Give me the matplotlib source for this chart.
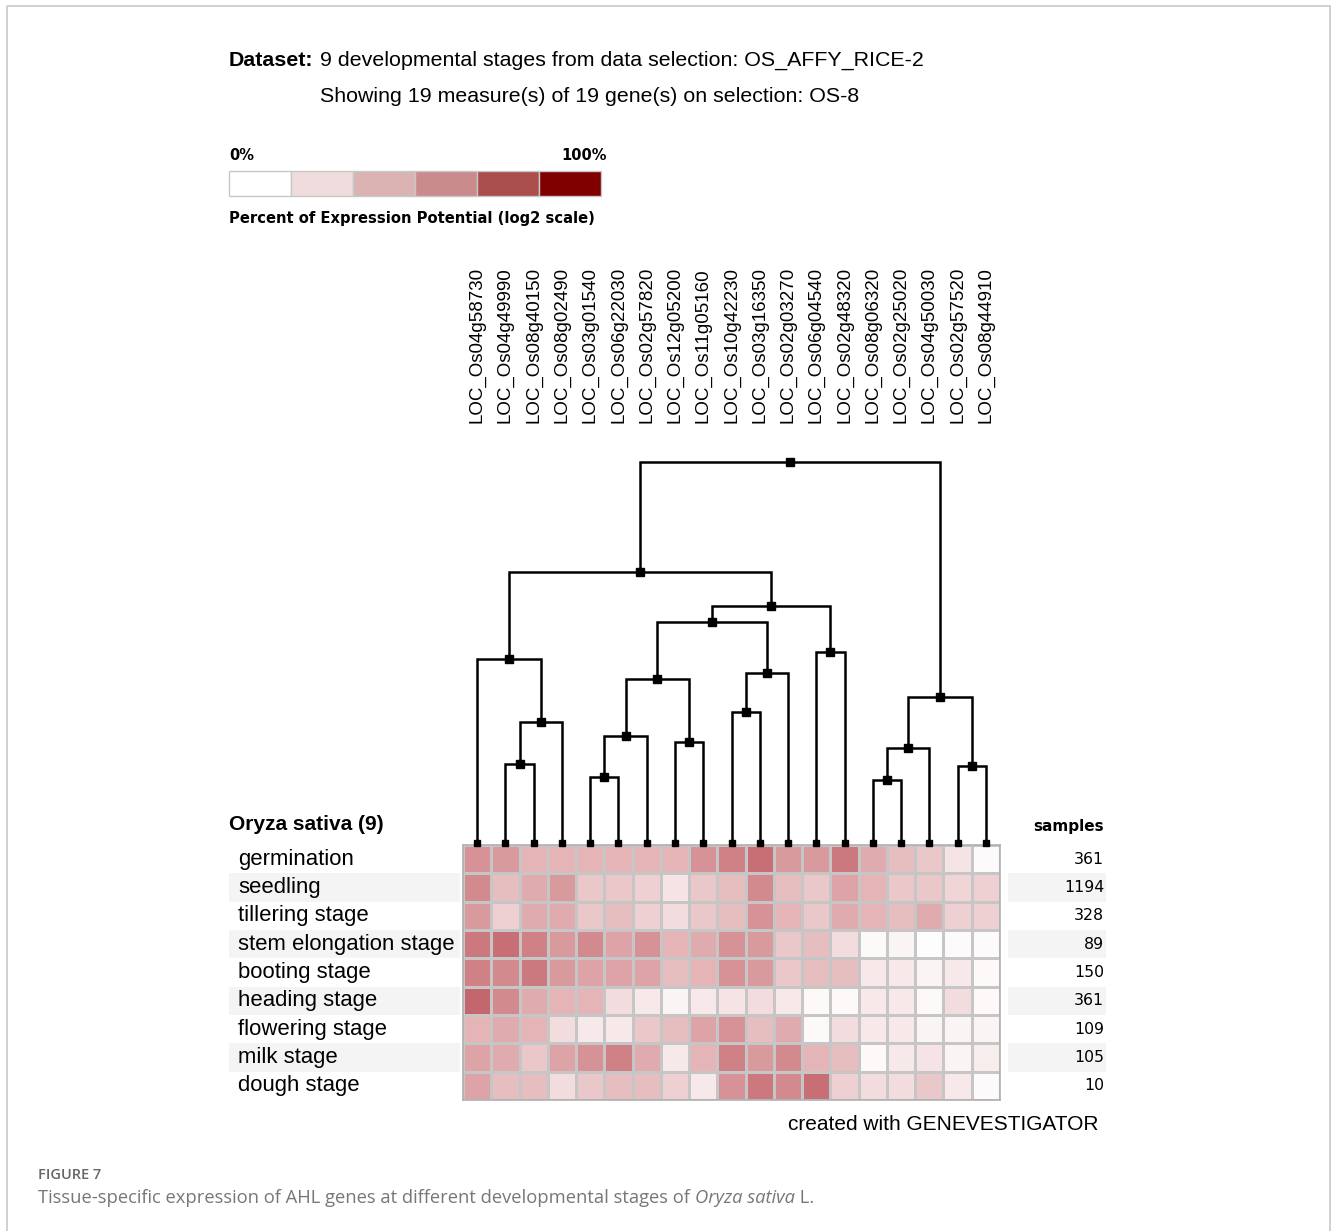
import matplotlib
matplotlib.use("Agg")
import matplotlib.pyplot as plt
import numpy as np
from matplotlib.colors import LinearSegmentedColormap
from matplotlib.patches import Rectangle
from matplotlib.transforms import blended_transform_factory as blend

# ---------------- data ----------------
genes = ["LOC_Os04g58730", "LOC_Os04g49990", "LOC_Os08g40150", "LOC_Os08g02490",
         "LOC_Os03g01540", "LOC_Os06g22030", "LOC_Os02g57820", "LOC_Os12g05200",
         "LOC_Os11g05160", "LOC_Os10g42230", "LOC_Os03g16350", "LOC_Os02g03270",
         "LOC_Os06g04540", "LOC_Os02g48320", "LOC_Os08g06320", "LOC_Os02g25020",
         "LOC_Os04g50030", "LOC_Os02g57520", "LOC_Os08g44910"]
stages = ["germination", "seedling", "tillering stage", "stem elongation stage",
          "booting stage", "heading stage", "flowering stage", "milk stage", "dough stage"]
samples = [361, 1194, 328, 89, 150, 361, 109, 105, 10]

# percent of expression potential
germination = [55, 50, 35, 35, 35, 35, 35, 35, 55, 65, 75, 50, 50, 70, 40, 30, 25, 12, 2]
seedling    = [60, 30, 40, 50, 25, 25, 20, 12, 25, 30, 60, 30, 25, 45, 35, 25, 25, 18, 20]
tillering   = [50, 20, 40, 40, 25, 30, 20, 15, 25, 30, 55, 35, 25, 40, 35, 30, 40, 20, 20]
stem_elong  = [70, 75, 65, 50, 60, 45, 55, 35, 40, 55, 50, 25, 30, 15, 3, 5, 1, 2, 2]
booting     = [65, 60, 70, 50, 45, 45, 45, 30, 35, 55, 50, 25, 30, 30, 10, 10, 5, 10, 3]
heading     = [80, 60, 40, 35, 35, 15, 10, 5, 10, 12, 15, 10, 3, 3, 10, 10, 3, 15, 3]
flowering   = [35, 40, 35, 15, 10, 10, 25, 30, 45, 55, 30, 40, 3, 15, 10, 10, 5, 5, 5]
milk        = [45, 40, 25, 45, 55, 65, 40, 10, 35, 65, 50, 60, 35, 30, 3, 10, 12, 5, 8]
dough       = [45, 30, 30, 15, 25, 30, 30, 20, 10, 55, 70, 60, 75, 20, 15, 15, 25, 10, 2]

# dendrogram merges: (child_a, child_b, height); leaves 0..18, new clusters 19..
merges = [
    (1, 2, 0.207), (19, 3, 0.318), (0, 20, 0.483),
    (4, 5, 0.173), (22, 6, 0.281), (7, 8, 0.265), (23, 24, 0.430),
    (9, 10, 0.344), (26, 11, 0.446), (25, 27, 0.580),
    (12, 13, 0.501), (28, 29, 0.622), (21, 30, 0.711),
    (14, 15, 0.165), (32, 16, 0.249), (17, 18, 0.202), (33, 34, 0.383),
    (31, 35, 1.0),
]

legend_labels = ["0%", "100%"]
legend_colors = ["#ffffff", "#f0dcdc", "#dcb3b3", "#c98b8b", "#a94d4d", "#800000"]

# ---------------- figure ----------------
W, H = 1331, 1231
fig = plt.figure(figsize=(W / 100, H / 100), dpi=100)
ax0 = fig.add_axes([0, 0, 1, 1])
ax0.set_xlim(0, W)
ax0.set_ylim(H, 0)
ax0.axis("off")

def px_rect(l, t, r, b):
    return [l / W, (H - b) / H, (r - l) / W, (b - t) / H]

HL, HR, HT, HB = 463, 1000, 845, 1100
ax_heat = fig.add_axes(px_rect(HL, HT, HR, HB))
ax_dend = fig.add_axes(px_rect(HL, 462, HR, 843))

# outer frame
ax0.add_patch(Rectangle((7, 6), 1323, 1300, fill=False, ec="#c8c8c8", lw=1.2))

sans = "Liberation Sans"
tahoma = "DejaVu Sans"
r = fig.canvas.get_renderer()

def px_width(t):
    return t.get_window_extent(renderer=r).width * (W / fig.bbox.width)

# ---- title lines ----
t1 = ax0.text(229, 60, "Dataset:", fontsize=15.4, fontweight="bold", family=sans,
              va="center", ha="left")
ax0.text(229 + px_width(t1) + 7, 60,
         "9 developmental stages from data selection: OS_AFFY_RICE-2",
         fontsize=15.4, family=sans, va="center", ha="left")
ax0.text(320, 97, "Showing 19 measure(s) of 19 gene(s) on selection: OS-8",
         fontsize=15.4, family=sans, va="center", ha="left")

# ---- legend ----
ax0.text(229, 156, legend_labels[0], fontsize=10.5, fontweight="bold", family=tahoma,
         va="center", ha="left")
ax0.text(607, 156, legend_labels[1], fontsize=10.5, fontweight="bold", family=tahoma,
         va="center", ha="right")
sw = (601 - 229) / len(legend_colors)
for i, c in enumerate(legend_colors):
    ax0.add_patch(Rectangle((229 + i * sw, 171), sw, 25, fc=c, ec="#c8c8c8", lw=1))
ax0.text(229, 218, "Percent of Expression Potential (log2 scale)", fontsize=10.6,
         fontweight="bold", family=tahoma, va="center", ha="left")

# ---- heatmap ----
data = np.array([germination, seedling, tillering, stem_elong, booting, heading,
                 flowering, milk, dough], dtype=float)
cmap = LinearSegmentedColormap.from_list(
    "gv", [(0, "#ffffff"), (0.2, "#eed0d2"), (0.4, "#e0abae"), (0.6, "#d38a8f"),
           (0.8, "#c4666d"), (1.0, "#a83a44")])
ax_heat.pcolormesh(np.arange(len(genes) + 1), np.arange(len(stages) + 1), data,
                   cmap=cmap, vmin=0, vmax=100, edgecolors="#c6c6c6", linewidth=1.0)
ax_heat.set_xlim(0, len(genes))
ax_heat.set_ylim(len(stages), 0)
ax_heat.set_xticks([])
ax_heat.set_yticks([])
for s in ax_heat.spines.values():
    s.set_color("#b0b0b0")
    s.set_linewidth(1.2)

# row backgrounds, labels, samples
tr_rows = blend(ax0.transData, ax_heat.transData)
for i, (st, n) in enumerate(zip(stages, samples)):
    if i % 2 == 1:
        ax0.add_patch(Rectangle((229, i), 231, 1, fc="#f4f4f4", ec="none",
                                transform=tr_rows, zorder=0))
        ax0.add_patch(Rectangle((1008, i), 98, 1, fc="#f4f4f4", ec="none",
                                transform=tr_rows, zorder=0))
    ax0.text(238, i + 0.5, st, fontsize=15.9, family=sans, va="center", ha="left",
             transform=tr_rows)
    ax0.text(1104, i + 0.5, str(n), fontsize=11.3, family=tahoma, va="center",
             ha="right", transform=tr_rows)

ax0.text(229, 824, "Oryza sativa (9)", fontsize=15, fontweight="bold", family=sans,
         va="center", ha="left")
ax0.text(1104, 826, "samples", fontsize=11, fontweight="bold", family=tahoma,
         va="center", ha="right")
ax0.text(1098, 1124, "created with GENEVESTIGATOR", fontsize=15, family=sans,
         va="center", ha="right")

# ---- dendrogram ----
n = len(genes)
xpos = {i: i + 0.5 for i in range(n)}
hpos = {i: 0.0 for i in range(n)}
for k, (a, b, h) in enumerate(merges):
    cid = n + k
    xa, xb = xpos[a], xpos[b]
    ax_dend.plot([xa, xa, xb, xb], [hpos[a], h, h, hpos[b]], color="black",
                 lw=1.8, solid_joinstyle="miter", clip_on=False)
    xpos[cid] = (xa + xb) / 2
    hpos[cid] = h
    ax_dend.plot(xpos[cid], h, marker="s", ms=5.5, color="black", clip_on=False)
ax_dend.plot([xpos[i] for i in range(n)], [0] * n, ls="none", marker="s", ms=5,
             color="black", clip_on=False)
ax_dend.set_xlim(0, n)
ax_dend.set_ylim(0, 1)
ax_dend.axis("off")

# gene labels
tr_genes = blend(ax_dend.transData, ax0.transData)
for i, g in enumerate(genes):
    ax0.text(i + 0.5, 423, g, rotation=90, fontsize=13.5, family=sans, ha="center",
             va="bottom", transform=tr_genes)

# ---- caption ----
cap_font = "Open Sans"
ax0.text(38, 1175, "FIGURE 7", fontsize=10.5, family=cap_font, fontweight="semibold",
         color="#666666", va="center", ha="left")
parts = [("Tissue-specific expression of AHL genes at different developmental stages of ", "normal"),
         ("Oryza sativa", "italic"), (" L.", "normal")]
x = 38
for txt, style in parts:
    t = ax0.text(x, 1198, txt, fontsize=13.2, family=cap_font, style=style,
                 color="#777777", va="center", ha="left")
    x = x + px_width(t)

fig.savefig("out.png", dpi=100)
